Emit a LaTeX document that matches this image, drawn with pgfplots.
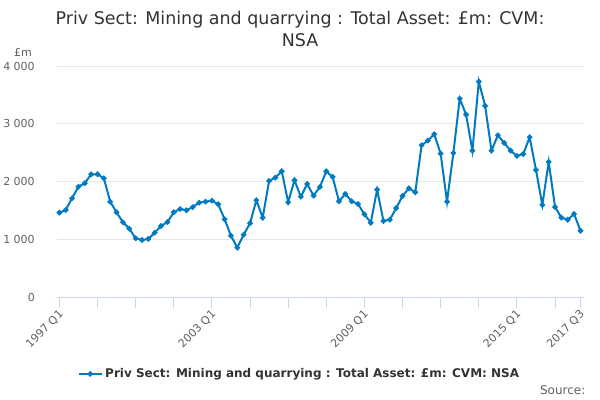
\documentclass[border=0pt]{standalone}
\usepackage{pgfplots}
\pgfplotsset{compat=1.18}
\usepackage{fontspec}
\setmainfont{DejaVu Sans}
\definecolor{line}{RGB}{0,123,193}
\definecolor{grid}{RGB}{230,230,230}
\definecolor{axisc}{RGB}{204,214,235}
\definecolor{lab}{RGB}{96,96,96}
\definecolor{titlec}{RGB}{51,51,51}
\begin{document}
\begin{tikzpicture}
\useasboundingbox (0,0) rectangle (450pt,300pt);
\begin{axis}[
  at={(43.1pt,76.7pt)}, anchor=south west,
  scale only axis, width=395.1pt, height=173.8pt,
  xmin=-0.3, xmax=82.6, ymin=0, ymax=4000,
  axis x line*=bottom, axis y line*=left,
  y axis line style={draw=none},
  x axis line style={draw=axisc, line width=0.75pt},
  xtick={0,6,12,18,24,30,36,42,48,54,60,66,72,78,82},
  xticklabels={1997 Q1,,,,2003 Q1,,,,2009 Q1,,,,2015 Q1,,2017 Q3},
  xtick style={draw=axisc, line width=0.75pt},
  tick align=outside, major tick length=7.5pt,
  ytick={0,1000,2000,3000,4000},
  ytick style={draw=none},
  ymajorgrids, grid style={draw=grid, line width=0.75pt},
  /pgf/number format/assume math mode=true,
  /pgf/number format/1000 sep={\ },
  yticklabel style={font=\fontsize{8.25}{10}\selectfont, text=lab, anchor=east, xshift=-6pt},
  xticklabel style={font=\fontsize{8.25}{10}\selectfont, text=lab, rotate=45, anchor=north east, xshift=2pt, yshift=3.5pt},
  legend style={at={(0.46,-0.329)}, anchor=center, draw=none, fill=none,
    font=\fontsize{9}{11}\bfseries\selectfont, text=titlec},
  legend cell align=left,
  clip=false,
]
\addplot[color=line, line width=1.5pt, mark=*, mark size=1.25pt, mark options={fill=line, draw=line}] table[x=i, y=v] {
i v
0 1468
1 1515
2 1717
3 1917
4 1976
5 2131
6 2131
7 2062
8 1658
9 1475
10 1302
11 1192
12 1026
13 997
14 1014
15 1123
16 1238
17 1307
18 1475
19 1532
20 1509
21 1566
22 1641
23 1658
24 1675
25 1613
26 1354
27 1071
28 864
29 1088
30 1285
31 1682
32 1382
33 2016
34 2073
35 2183
36 1648
37 2028
38 1744
39 1964
40 1762
41 1912
42 2183
43 2085
44 1665
45 1791
46 1665
47 1618
48 1440
49 1295
50 1865
51 1325
52 1347
53 1547
54 1756
55 1889
56 1820
57 2632
58 2712
59 2822
60 2487
61 1658
62 2499
63 3437
64 3161
65 2539
66 3731
67 3311
68 2539
69 2805
70 2672
71 2539
72 2447
73 2482
74 2770
75 2206
76 1601
77 2344
78 1566
79 1382
80 1347
81 1446
82 1157
};
\addlegendentry{Priv Sect: Mining and quarrying : Total Asset: £m: CVM: NSA}
\end{axis}
\node[font=\fontsize{13.1}{16.5}\selectfont, text=titlec, align=center] at (225pt,278pt) {Priv Sect: Mining and quarrying : Total Asset: £m: CVM:\\NSA};
\node[font=\fontsize{8.25}{10}\selectfont, text=lab] at (17.25pt,261pt) {£m};
\node[font=\fontsize{9}{11}\selectfont, text=lab, anchor=east] at (442.5pt,7.5pt) {Source:};
\end{tikzpicture}
\end{document}
